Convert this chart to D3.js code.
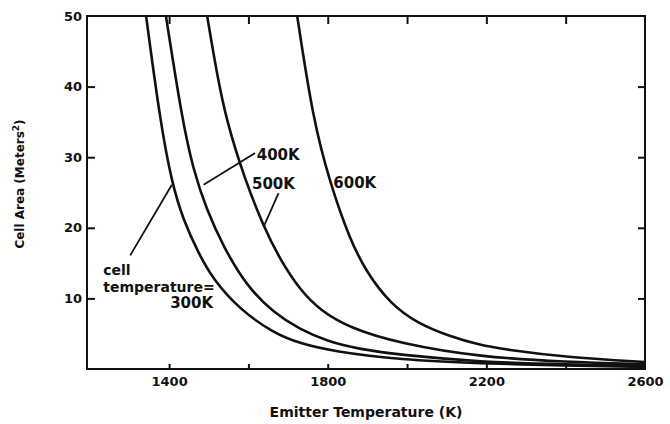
<!DOCTYPE html>
<html>
<head>
<meta charset="utf-8">
<script src="https://cdn.jsdelivr.net/npm/d3@7"></script>
<style>
  body { margin: 0; background: #fff; }
  svg text { font-family: "DejaVu Sans", sans-serif; font-weight: bold; fill: #111; }
</style>
</head>
<body>
<svg width="670" height="424"></svg>
<script>
// emitter temperature (K) and cell area (m^2)
var temp300 = [1342, 1377, 1407, 1436, 1474, 1512, 1579, 1663, 1730, 1814, 1983, 2184, 2400, 2600];
var area300 = [50, 35.3, 26.3, 21.1, 16.4, 12.6, 8.4, 5.1, 3.6, 2.5, 1.3, 0.8, 0.5, 0.3];

var temp400 = [1392, 1433, 1461, 1495, 1537, 1596, 1663, 1730, 1800, 1880, 1983, 2184, 2400, 2600];
var area400 = [50, 35.3, 28.2, 22.5, 17.3, 11.7, 8.0, 5.6, 3.9, 2.8, 2.0, 1.0, 0.65, 0.45];

var temp500 = [1496, 1520, 1544, 1590, 1638, 1680, 1730, 1781, 1856, 1983, 2184, 2400, 2600];
var area500 = [50, 42, 35.3, 27, 20.2, 15.5, 11.2, 8.3, 5.8, 3.6, 1.7, 1.0, 0.7];

var temp600 = [1723, 1763, 1806, 1856, 1899, 1957, 2025, 2109, 2184, 2242, 2411, 2600];
var area600 = [50, 35.3, 26.3, 18.3, 13.6, 9.3, 6.5, 4.6, 3.4, 2.8, 1.6, 1.0];

var xTicks = [1400, 1600, 1800, 2000, 2200, 2400];
var xTickLabels = [1400, 1800, 2200, 2600];
var yTicks = [10, 20, 30, 40];
var yTickLabels = [10, 20, 30, 40, 50];

// curve labels, in data units [T, A]
var labels = [
  {text: "400K", at: [1621, 30.3]},
  {text: "500K", at: [1609, 26.3]},
  {text: "600K", at: [1814, 26.4]},
  {text: "cell", at: [1234, 14.0]},
  {text: "temperature=", at: [1234, 11.6]},
  {text: "300K", at: [1511, 9.4], anchor: "end"}
];
var leaders = [
  [[1617, 30.6], [1487, 26.1]],
  [[1676, 24.9], [1638, 20.1]],
  [[1302, 16.1], [1407, 26.1]]
];

var svg = d3.select("svg");

var x = d3.scaleLinear().domain([1193, 2600]).range([87, 645]);
var y = d3.scaleLinear().domain([0, 50]).range([369, 16]);

// frame
svg.append("rect")
    .attr("x", x(1193)).attr("y", y(50))
    .attr("width", x(2600) - x(1193)).attr("height", y(0) - y(50))
    .attr("fill", "none").attr("stroke", "#111").attr("stroke-width", 2);

// tick marks pointing inward
function ticksOnly(axis) {
  return function(g) {
    g.call(axis);
    g.select(".domain").remove();
    g.selectAll(".tick line").attr("stroke", "#111").attr("stroke-width", 2);
    g.selectAll(".tick text").remove();
  };
}
svg.append("g").attr("transform", "translate(0," + y(0) + ")")
    .call(ticksOnly(d3.axisBottom(x).tickValues(xTicks).tickSize(-5)));
svg.append("g").attr("transform", "translate(0," + y(50) + ")")
    .call(ticksOnly(d3.axisTop(x).tickValues(xTicks).tickSize(-8)));
svg.append("g").attr("transform", "translate(" + x(1193) + ",0)")
    .call(ticksOnly(d3.axisLeft(y).tickValues(yTicks).tickSize(-8)));
svg.append("g").attr("transform", "translate(" + x(2600) + ",0)")
    .call(ticksOnly(d3.axisRight(y).tickValues(yTicks).tickSize(-7)));

// tick labels
function labelsOnly(g) {
  g.select(".domain").remove();
  g.selectAll(".tick line").remove();
  g.selectAll(".tick text")
      .style("font-family", "'DejaVu Sans', sans-serif")
      .style("font-weight", "bold")
      .style("font-size", "13px")
      .attr("fill", "#111");
}
svg.append("g").attr("transform", "translate(0," + y(0) + ")")
    .call(d3.axisBottom(x).tickValues(xTickLabels).tickSize(0).tickPadding(8).tickFormat(d3.format("d")))
    .call(labelsOnly);
svg.append("g").attr("transform", "translate(" + x(1193) + ",0)")
    .call(d3.axisLeft(y).tickValues(yTickLabels).tickSize(0).tickPadding(5).tickFormat(d3.format("d")))
    .call(labelsOnly);

// axis titles
svg.append("text")
    .attr("x", (x(1193) + x(2600)) / 2).attr("y", 417)
    .attr("text-anchor", "middle")
    .style("font-size", "14px")
    .text("Emitter Temperature (K)");

var yt = svg.append("text")
    .attr("transform", "translate(24,184) rotate(-90)")
    .attr("text-anchor", "middle")
    .style("font-size", "12px");
yt.append("tspan").text("Cell Area (Meters");
yt.append("tspan").attr("dy", -5).style("font-size", "9px").text("2");
yt.append("tspan").attr("dy", 5).text(")");

// curves (basis spline smooths the hand-read points)
var line = d3.line()
    .x(function(d) { return x(d[0]); })
    .y(function(d) { return y(d[1]); })
    .curve(d3.curveBasis);

var series = [[temp300, area300], [temp400, area400], [temp500, area500], [temp600, area600]];

svg.append("g")
  .selectAll("path")
  .data(series.map(function(s) { return d3.zip(s[0], s[1]); }))
  .enter().append("path")
    .attr("d", line)
    .attr("fill", "none")
    .attr("stroke", "#111")
    .attr("stroke-width", 2.6);

// leaders
svg.append("g")
  .selectAll("path")
  .data(leaders)
  .enter().append("path")
    .attr("d", d3.line().x(function(d) { return x(d[0]); }).y(function(d) { return y(d[1]); }))
    .attr("stroke", "#111")
    .attr("stroke-width", 1.8);

svg.append("g")
  .selectAll("text")
  .data(labels)
  .enter().append("text")
    .attr("x", function(d) { return x(d.at[0]); })
    .attr("y", function(d) { return y(d.at[1]); })
    .attr("dy", "0.36em")
    .attr("text-anchor", function(d) { return d.anchor || "start"; })
    .style("font-size", function(d) { return /K$/.test(d.text) ? "15px" : "14px"; })
    .text(function(d) { return d.text; });
</script>
</body>
</html>
